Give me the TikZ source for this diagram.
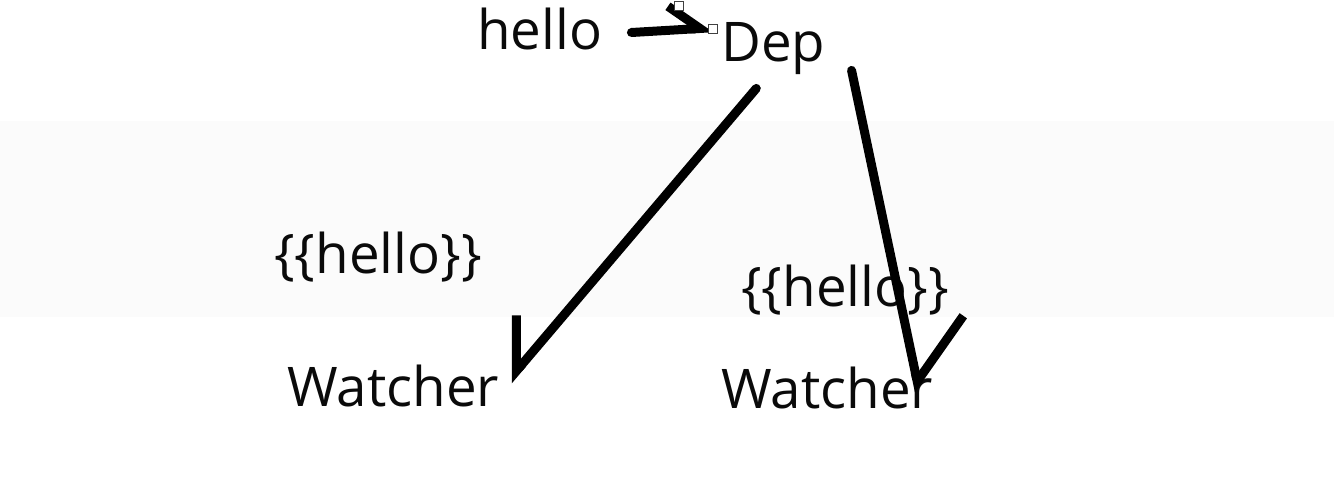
\documentclass[tikz,border=0pt]{standalone}
\usepackage{fontspec}
\setmainfont{Open Sans}
\usetikzlibrary{arrows.meta}
\newlength{\du}
\setlength{\du}{0.75pt}
\definecolor{inkcolor}{rgb}{0.040000, 0.040000, 0.040000}
\tikzset{
  word/.style={inner sep=0pt, anchor=base west, text=inkcolor, font=\fontsize{41}{48}\selectfont},
  pen/.style={line width=9\du, line cap=round, line join=round, draw=black},
  barb/.style n args={3}{pen, -{Straight Barb[#1, length=#2, width=#3]}},
  grip/.style={draw=darkgray, fill=white, line width=1.2\du, minimum size=9\du, inner sep=0pt},
}

\begin{document}
\begin{tikzpicture}
\pgftransformxscale{1.000000}
\pgftransformyscale{-1.000000}
\useasboundingbox (0\du,0\du) rectangle (1334\du,488\du);
\definecolor{dialinecolor}{rgb}{0.984000, 0.984000, 0.984000}
\fill[dialinecolor] (0\du,121\du) rectangle (1334\du,317\du);
% words
\node[word] (hello) at (477\du,50\du){hello};
\node[word] (dep) at (721\du,62\du){Dep};
\node[word] (mustacheL) at (274\du,273\du){\{\{hello\}\}};
\node[word] (mustacheR) at (741\du,306\du){\{\{hello\}\}};
\node[word] (watcherL) at (287\du,406\du){Watcher};
\node[word] (watcherR) at (721\du,408\du){Watcher};
% strokes (tip sizes in pt, 1du = 0.75pt)
\draw[barb={left}{23pt}{36pt}] ([xshift=29\du,yshift=3\du]hello.east) -- ([xshift=-8\du,yshift=5\du]dep.north west);
\draw[barb={right}{32pt}{54pt}] ([xshift=-17\du,yshift=13\du]dep.south) -- ([xshift=9\du,yshift=-5\du]watcherL.east);
\draw[barb={left}{41pt}{88pt}] ([xshift=26\du,yshift=-5\du]dep.south east) -- ([xshift=-14\du,yshift=4\du]watcherR.east);
% selection handles
\node[grip] (grip1) at (679\du,6\du){};
\node[grip] (grip2) at (713\du,29\du){};
\end{tikzpicture}
\end{document}
